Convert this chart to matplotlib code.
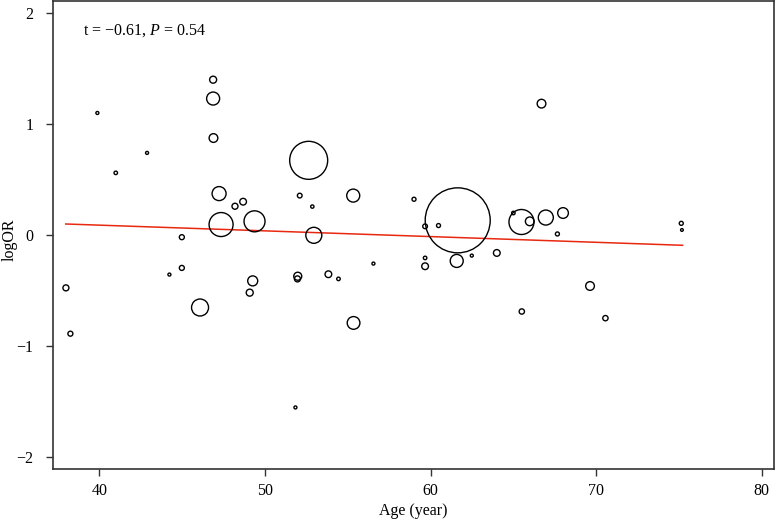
import numpy as np
import matplotlib.pyplot as plt

# study-level data
age = [37.98, 38.25, 39.88, 40.99, 42.88, 44.23, 44.98, 44.98, 46.08, 46.87,
       46.87, 46.89, 47.23, 47.35, 48.19, 48.68, 49.37, 49.08, 49.26, 52.64,
       52.10, 52.86, 52.95, 51.98, 51.96, 51.84, 53.83, 54.44, 56.55, 55.33,
       55.35, 59.00, 61.64, 59.67, 60.48, 59.67, 59.67, 61.58, 62.49, 64.00,
       65.49, 65.00, 65.99, 66.96, 68.00, 67.66, 66.70, 75.14, 75.18, 69.63,
       65.51, 70.56]
logor = [-0.477, -0.89, 1.10, 0.56, 0.74, -0.357, -0.297, -0.02, -0.654, 1.40,
         1.23, 0.874, 0.373, 0.094, 0.259, 0.30, 0.123, -0.52, -0.414, 0.673,
         0.355, 0.256, -0.003, -0.372, -0.396, -1.555, -0.354, -0.396, -0.258, 0.355,
         -0.793, 0.322, 0.132, 0.078, 0.085, -0.207, -0.282, -0.234, -0.186, -0.162,
         0.117, 0.198, 0.123, 0.157, 0.198, 0.009, 1.184, 0.105, 0.045, -0.46,
         -0.69, -0.75]
# bubble weight (approx. diameter in px)
weight = [6, 5, 3, 3.5, 3, 3, 5, 5, 17, 7,
          13, 8.7, 14, 24, 6, 6.7, 21, 7, 10, 38,
          4.7, 3.3, 16, 8, 6, 3, 6.7, 3.5, 3, 13,
          12.7, 4, 65, 4.7, 4, 3.5, 6.7, 13, 3, 6.7,
          25, 3.5, 8.7, 15, 10.7, 4, 8.7, 4, 2.7, 8.7,
          5.3, 5.3]

fit_x = [37.97, 75.22]
fit_y = [0.099, -0.093]

plt.rcParams['font.family'] = 'Liberation Serif'
plt.rcParams['mathtext.fontset'] = 'custom'
plt.rcParams['mathtext.it'] = 'Liberation Serif:italic'
plt.rcParams['mathtext.rm'] = 'Liberation Serif'

fig = plt.figure(figsize=(7.75, 5.19), dpi=100)
ax = fig.add_axes([53 / 775, 50 / 519, 721 / 775, 468.5 / 519])

sizes = (np.array(weight) / 1.389) ** 2
ax.scatter(age, logor, s=sizes, facecolors='none', edgecolors='black', linewidths=1.0, zorder=3)
ax.plot(fit_x, fit_y, color='#e8280f', lw=1.1, zorder=2)

ax.text(0.042, 0.935, 't = \u22120.61, $\\it{P}$ = 0.54', transform=ax.transAxes,
        fontsize=11.5, va='center', ha='left')

ax.set_xlim(37.2, 80.74)
ax.set_ylim(-2.11, 2.114)
ax.set_xticks([40, 50, 60, 70, 80])
ax.set_yticks([-2, -1, 0, 1, 2])
ax.tick_params(labelsize=11.5, length=5, width=1, color='#333333', pad=5)
ax.tick_params(axis='y', pad=9)
ax.set_xlabel('Age (year)', fontsize=11.5, labelpad=3)
ax.set_ylabel('logOR', fontsize=11.5)
ax.yaxis.set_label_coords(-0.049, 0.49)
for sp in ax.spines.values():
    sp.set_color('#333333')
    sp.set_linewidth(1.2)

plt.savefig('out.png', dpi=100)
